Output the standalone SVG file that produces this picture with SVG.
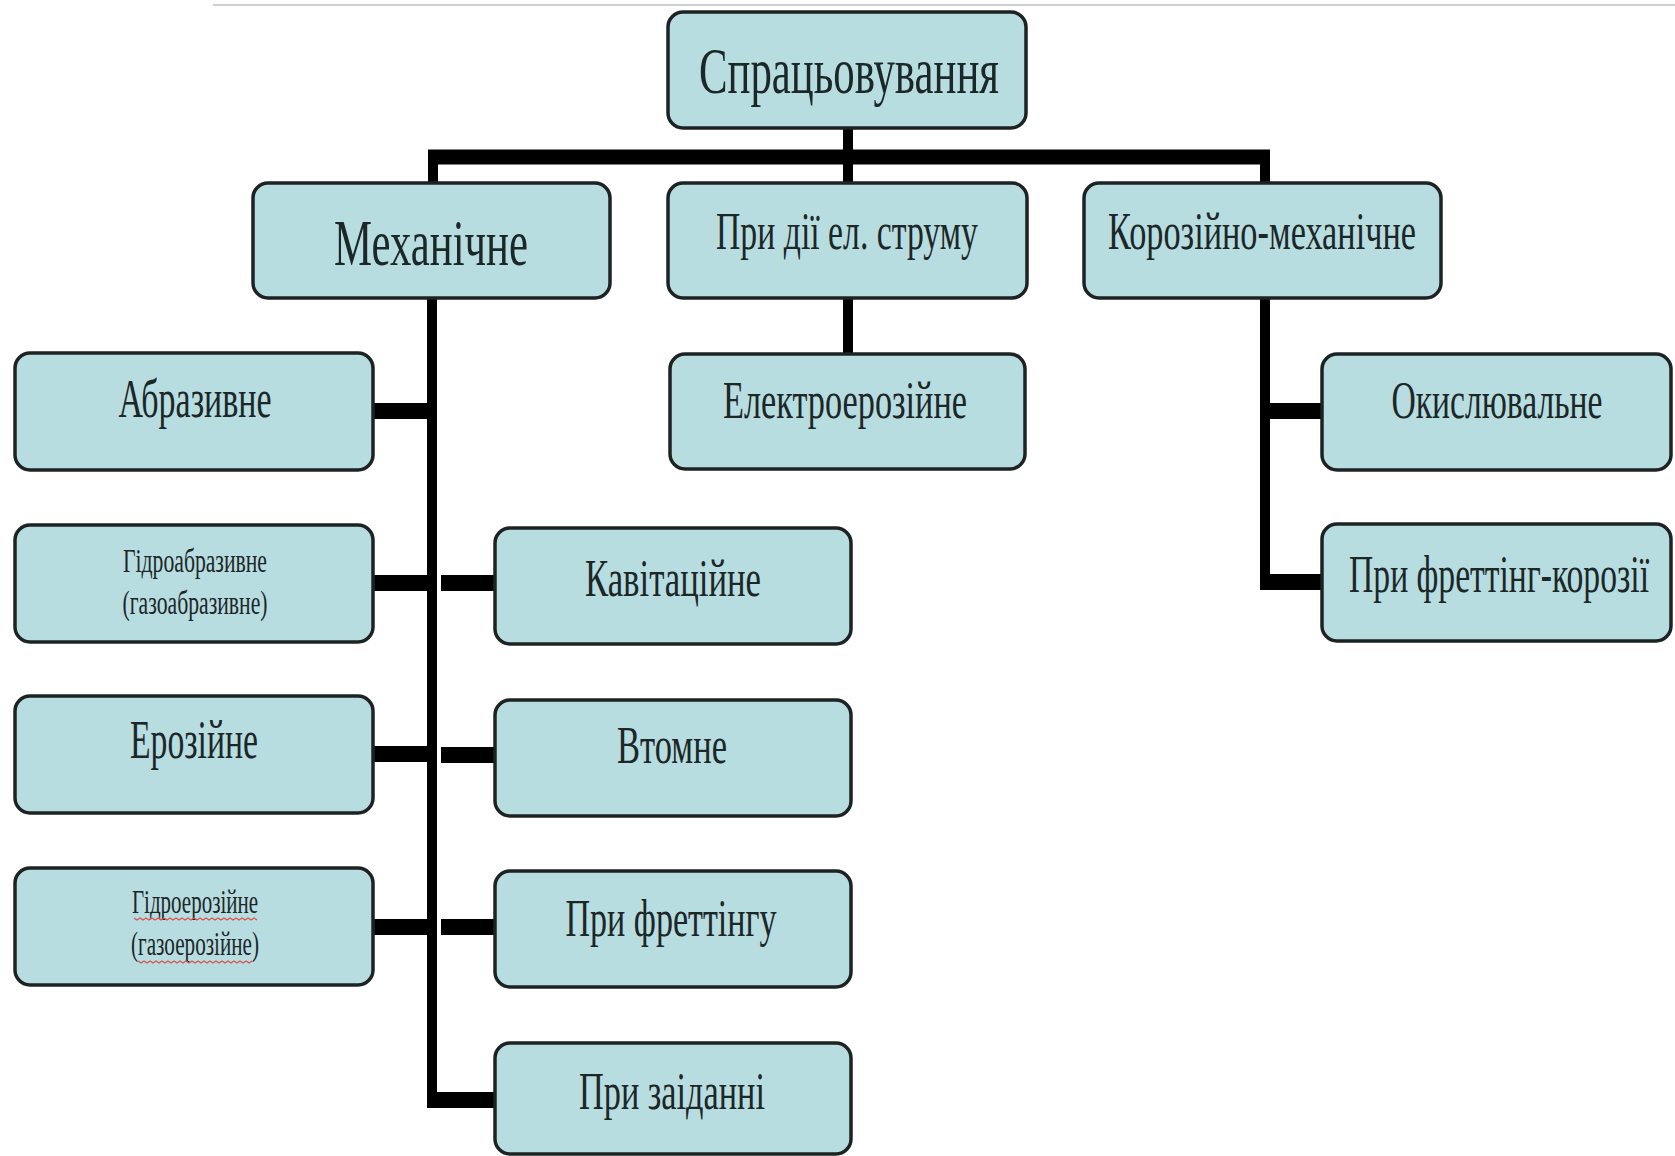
<svg xmlns="http://www.w3.org/2000/svg" width="1675" height="1156" viewBox="0 0 1675 1156">
<style>
.box{fill:#b8dde1;stroke:#1d2323;stroke-width:3.5}
.t{font-family:"Liberation Serif","Times New Roman",serif;fill:#1c2727;text-anchor:middle}
.c{stroke:#000;fill:none}
.v{stroke-width:10}
.h{stroke-width:16}
.sq{fill:none;stroke:#d9534f;stroke-width:1.3}
</style>
<rect width="1675" height="1156" fill="#ffffff"/>
<line x1="213" y1="5" x2="1675" y2="5" stroke="#cfcfcf" stroke-width="2"/>
<g id="connectors">
<line class="c v" x1="848" y1="128" x2="848" y2="183"/>
<line class="c" stroke-width="15" x1="428" y1="157" x2="1270" y2="157"/>
<line class="c v" x1="433" y1="157" x2="433" y2="183"/>
<line class="c v" x1="1265" y1="157" x2="1265" y2="183"/>
<line class="c v" x1="848" y1="298" x2="848" y2="354"/>
<line class="c v" x1="432" y1="298" x2="432" y2="1108"/>
<line class="c h" x1="373" y1="411" x2="437" y2="411"/>
<line class="c h" x1="373" y1="583" x2="437" y2="583"/>
<line class="c h" x1="373" y1="754" x2="437" y2="754"/>
<line class="c h" x1="373" y1="927" x2="437" y2="927"/>
<line class="c h" x1="441" y1="583" x2="495" y2="583"/>
<line class="c h" x1="441" y1="755" x2="495" y2="755"/>
<line class="c h" x1="441" y1="927" x2="495" y2="927"/>
<line class="c h" x1="437" y1="1100" x2="495" y2="1100"/>
<line class="c v" x1="1265" y1="298" x2="1265" y2="590"/>
<line class="c h" x1="1265" y1="411" x2="1322" y2="411"/>
<line class="c h" x1="1265" y1="582" x2="1322" y2="582"/>
</g>
<g id="n-root"><rect class="box" x="668" y="12" width="358" height="116" rx="15"/><text class="t" x="849" y="93" font-size="66" textLength="300" lengthAdjust="spacingAndGlyphs">Спрацьовування</text></g>
<g id="n-mech"><rect class="box" x="253" y="183" width="357" height="115" rx="15"/><text class="t" x="431" y="265" font-size="66" textLength="194" lengthAdjust="spacingAndGlyphs">Механічне</text></g>
<g id="n-el"><rect class="box" x="668" y="183" width="359" height="115" rx="15"/><text class="t" x="847" y="249" font-size="52" textLength="262" lengthAdjust="spacingAndGlyphs">При дії ел. струму</text></g>
<g id="n-kor"><rect class="box" x="1084" y="183" width="357" height="115" rx="15"/><text class="t" x="1262" y="249" font-size="52" textLength="308" lengthAdjust="spacingAndGlyphs">Корозійно-механічне</text></g>
<g id="n-elero"><rect class="box" x="670" y="354" width="355" height="115" rx="15"/><text class="t" x="845" y="418" font-size="52" textLength="244" lengthAdjust="spacingAndGlyphs">Електроерозійне</text></g>
<g id="n-abr"><rect class="box" x="15" y="353" width="358" height="117" rx="15"/><text class="t" x="195" y="417" font-size="54" textLength="153" lengthAdjust="spacingAndGlyphs">Абразивне</text></g>
<g id="n-gabr"><rect class="box" x="15" y="525" width="358" height="117" rx="15"/><text class="t" x="195" y="572" font-size="34" textLength="144" lengthAdjust="spacingAndGlyphs">Гідроабразивне</text><text class="t" x="195" y="614" font-size="34" textLength="145" lengthAdjust="spacingAndGlyphs">(газоабразивне)</text></g>
<g id="n-eroz"><rect class="box" x="15" y="696" width="358" height="117" rx="15"/><text class="t" x="194" y="758" font-size="54" textLength="128" lengthAdjust="spacingAndGlyphs">Ерозійне</text></g>
<g id="n-geroz"><rect class="box" x="15" y="868" width="358" height="117" rx="15"/><text class="t" x="195" y="913" font-size="34" textLength="126" lengthAdjust="spacingAndGlyphs">Гідроерозійне</text><text class="t" x="195" y="955" font-size="34" textLength="128" lengthAdjust="spacingAndGlyphs">(газоерозійне)</text>
<path class="sq" d="M134 918 l3 2 l3 -2 l3 2 l3 -2 l3 2 l3 -2 l3 2 l3 -2 l3 2 l3 -2 l3 2 l3 -2 l3 2 l3 -2 l3 2 l3 -2 l3 2 l3 -2 l3 2 l3 -2 l3 2 l3 -2 l3 2 l3 -2 l3 2 l3 -2 l3 2 l3 -2 l3 2 l3 -2 l3 2 l3 -2 l3 2 l3 -2 l3 2 l3 -2 l3 2 l3 -2 l3 2 l3 -2 l3 2"/>
<path class="sq" d="M138 961 l3 2 l3 -2 l3 2 l3 -2 l3 2 l3 -2 l3 2 l3 -2 l3 2 l3 -2 l3 2 l3 -2 l3 2 l3 -2 l3 2 l3 -2 l3 2 l3 -2 l3 2 l3 -2 l3 2 l3 -2 l3 2 l3 -2 l3 2 l3 -2 l3 2 l3 -2 l3 2 l3 -2 l3 2 l3 -2 l3 2 l3 -2 l3 2 l3 -2 l3 2 l3 -2"/></g>
<g id="n-kav"><rect class="box" x="495" y="528" width="356" height="116" rx="15"/><text class="t" x="673" y="596" font-size="52" textLength="176" lengthAdjust="spacingAndGlyphs">Кавітаційне</text></g>
<g id="n-vtom"><rect class="box" x="495" y="700" width="356" height="116" rx="15"/><text class="t" x="672" y="763" font-size="52" textLength="110" lengthAdjust="spacingAndGlyphs">Втомне</text></g>
<g id="n-fret"><rect class="box" x="495" y="871" width="356" height="116" rx="15"/><text class="t" x="671" y="936" font-size="52" textLength="211" lengthAdjust="spacingAndGlyphs">При фреттінгу</text></g>
<g id="n-zai"><rect class="box" x="495" y="1043" width="356" height="111" rx="15"/><text class="t" x="672" y="1109" font-size="52" textLength="186" lengthAdjust="spacingAndGlyphs">При заіданні</text></g>
<g id="n-okys"><rect class="box" x="1322" y="354" width="349" height="116" rx="15"/><text class="t" x="1497" y="418" font-size="52" textLength="211" lengthAdjust="spacingAndGlyphs">Окислювальне</text></g>
<g id="n-fretkor"><rect class="box" x="1322" y="524" width="349" height="117" rx="15"/><text class="t" x="1499" y="592" font-size="52" textLength="300" lengthAdjust="spacingAndGlyphs">При фреттінг-корозії</text></g>
</svg>
